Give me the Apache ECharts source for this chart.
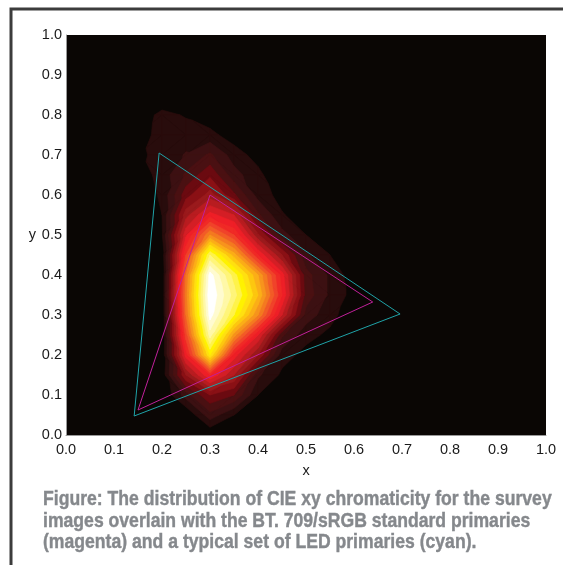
<!DOCTYPE html>
<html><head><meta charset="utf-8">
<style>html,body{margin:0;padding:0;background:#fff}#c{width:563px;height:565px}</style>
<script src="https://cdn.jsdelivr.net/npm/echarts@6/dist/echarts.min.js"></script>
</head><body><div id="c"></div>
<script>
const tickLabels = ['0.0','0.1','0.2','0.3','0.4','0.5','0.6','0.7','0.8','0.9','1.0'];
const gridX = [0.15,0.2,0.25,0.3,0.35,0.4,0.45,0.5,0.55,0.6];
const gridY = [0.85,0.8,0.75,0.7,0.65,0.6,0.55,0.5,0.45,0.4,0.35,0.3,0.25,0.2,0.15,0.1,0.05,0];
const density = [
 [0,0,0,0,0,0,0,0,0,0],
 [0.3,1.33,0.9,0.4,0,0,0,0,0,0],
 [0.5,1.4,1.5,1.3,0.5,0,0,0,0,0],
 [0.8,1.3,2.1,3.2,1.5,0.6,0,0,0,0],
 [0.4,1.4,3.2,4.8,2.4,1.3,0,0,0,0],
 [0.2,1.2,4.6,6.4,4.2,1.6,0.6,0,0,0],
 [0,1,6.6,9.4,8,3.2,1.1,0.4,0,0],
 [0,0.9,8.8,14,11,6.2,2.4,1,0.3,0],
 [0,0.3,11,20,15.5,10,6,2.2,1,0],
 [0,0,13,23.5,19.5,15,9.5,3.4,1.8,0.4],
 [0,0,13.5,24,20.5,16,10,3.6,1.8,0.6],
 [0,0,13,23.5,19,14,8,2.6,1.3,0.4],
 [0,0,11.5,21.5,14.5,9,3.2,1.3,0.8,0],
 [0,0.1,9.5,18,9.5,6,1.4,0.7,0,0],
 [0,0.3,6,10,7,2.2,0.8,0,0,0],
 [0,0,2.5,5,4,1,0,0,0,0],
 [0,0,0,2.6,1,0,0,0,0,0],
 [0,0,0,0,0,0,0,0,0,0]
];
const levelColors = ['#280c0c','#3c1012','#4a1012','#6b0a10','#8a1015','#9a1a1c','#b81c20','#d41e25','#ee1f27','#f02a26','#f0432a','#f25c27','#f47a20','#f7941d','#fbae17','#fdc70f','#ffe010','#fff200','#fff34a','#fff57a','#fff8a8','#fffbd0','#ffffff'];
const ledPrimaries = [[0.194,0.705],[0.142,0.0475],[0.696,0.3025],[0.194,0.705]];
const bt709Primaries = [[0.30,0.60],[0.15,0.0625],[0.639,0.3325],[0.30,0.60]];
const captionLines = ['Figure: The distribution of CIE xy chromaticity for the survey','images overlain with the BT. 709/sRGB standard primaries','(magenta) and a typical set of LED primaries (cyan).'];

function clipTriangle(tri, lv){
  const out=[];
  for(let i=0;i<3;i++){
    const a=tri[i], b=tri[(i+1)%3];
    if(a[2]>=lv) out.push([a[0],a[1]]);
    if((a[2]>=lv)!==(b[2]>=lv)){
      const t=(lv-a[2])/(b[2]-a[2]);
      out.push([a[0]+t*(b[0]-a[0]),a[1]+t*(b[1]-a[1])]);
    }
  }
  return out;
}
function levelPolys(lv){
  const polys=[];
  for(let r=0;r<gridY.length-1;r++)for(let c=0;c<gridX.length-1;c++){
    const a=[gridX[c],gridY[r],density[r][c]],b=[gridX[c+1],gridY[r],density[r][c+1]],
          d=[gridX[c+1],gridY[r+1],density[r+1][c+1]],e=[gridX[c],gridY[r+1],density[r+1][c]];
    const tris=Math.abs(a[2]-d[2])<=Math.abs(b[2]-e[2])?[[a,b,d],[a,d,e]]:[[a,b,e],[b,d,e]];
    tris.forEach(t=>{const q=clipTriangle(t,lv);if(q.length>2)polys.push(q);});
  }
  return polys;
}
const levels=levelColors.map((_,i)=>[i+1]);
const chart=echarts.init(document.getElementById('c'),null,{renderer:'canvas'});
const axisCommon={type:'value',min:0,max:1,interval:0.1,splitLine:{show:false},
  axisTick:{show:false},axisLine:{show:true,onZero:false,lineStyle:{color:'#999',width:1}},
  axisLabel:{color:'#1a1a1a',fontFamily:'Liberation Sans',fontSize:14.5,showMinLabel:true,showMaxLabel:true,
    formatter:v=>tickLabels[Math.round(v*10)]},
  nameTextStyle:{color:'#1a1a1a',fontFamily:'Liberation Sans',fontSize:14.5}};
const line=(name,color,data)=>({type:'line',name,data,symbol:'none',z:5,animation:false,silent:true,lineStyle:{color,width:1}});
chart.setOption({
  animation:false,
  backgroundColor:'#fff',
  grid:{left:66,right:17,top:35,bottom:130,show:true,backgroundColor:'#0a0604',borderWidth:0},
  xAxis:Object.assign({},axisCommon,{name:'x',nameLocation:'middle',nameGap:28,axisLabel:Object.assign({},axisCommon.axisLabel,{margin:7})}),
  yAxis:Object.assign({},axisCommon,{name:'y',nameLocation:'middle',nameGap:30,nameRotate:0,axisLabel:Object.assign({},axisCommon.axisLabel,{margin:4})}),
  graphic:[
    {type:'polyline',silent:true,shape:{points:[[11,575],[11,9],[575,9]]},style:{fill:'none',stroke:'#3c3c3c',lineWidth:3}},
    ...captionLines.map((t,i)=>({type:'text',silent:true,x:43,y:[500,521.7,542.7][i],scaleX:0.89,style:{text:t,x:0,y:0,verticalAlign:'middle',fill:'#85888c',stroke:'#85888c',lineWidth:0.4,font:'bold 19.8px "Liberation Sans",sans-serif'}}))
  ],
  series:[
    {type:'custom',z:2,silent:true,clip:true,coordinateSystem:'cartesian2d',data:levels,encode:{x:[],y:[]},
     renderItem(params,api){
       const lv=api.value(0);
       const color=levelColors[lv-1];
       return {type:'group',children:levelPolys(lv).map(q=>({type:'polygon',shape:{points:q.map(pt=>api.coord(pt))},style:{fill:color,stroke:color,lineWidth:0.6}}))};
     }},
    line('LED','#1fa3a8',ledPrimaries),
    line('BT.709','#c0209a',bt709Primaries)
  ]
});
</script></body></html>
